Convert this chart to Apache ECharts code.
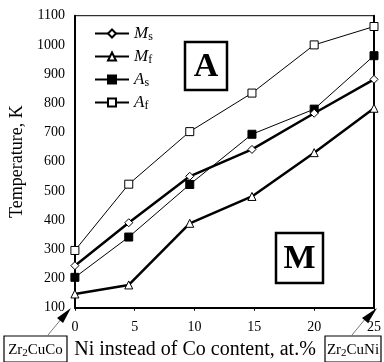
<!DOCTYPE html>
<html><head><meta charset="utf-8">
<script src="https://cdn.jsdelivr.net/npm/echarts@6/dist/echarts.min.js"></script>
<style>html,body{margin:0;padding:0;background:#fff}#c{width:384px;height:362px}</style>
</head><body><div id="c"></div>
<script>
const xValues = [0, 4.5, 9.6, 14.8, 20, 25];
const ms = [244, 391, 550, 642, 766, 882];
const mf = [147, 178, 389, 481, 631, 783];
const as = [204, 342, 522, 694, 780, 963];
const af = [296, 523, 703, 835, 1000, 1063];
const seriesNames = ['Ms', 'Mf', 'As', 'Af'];
const yTicks = [100, 1100, 100];
const xTicks = [0, 25, 5];

const FONT = 'Liberation Serif';
const chart = echarts.init(document.getElementById('c'));
function pairs(v){ return xValues.map((x,i)=>[x, v[i]]); }
const sub = {
  i:{fontFamily:FONT,fontStyle:'italic',fontSize:17,color:'#000',lineHeight:18},
  s:{fontFamily:FONT,fontSize:12,color:'#000',verticalAlign:'bottom',padding:[5,0,0,0],lineHeight:18}
};
function mk(name, data, symbol, fill, width, size){
  return {name, type:'line', data:pairs(data), symbol, symbolSize:size,
    lineStyle:{color:'#000', width}, itemStyle:{color:fill, borderColor:'#000', borderWidth:1},
    emphasis:{disabled:true}, z: width>1?3:2};
}
chart.setOption({
  animation:false,
  backgroundColor:'#fff',
  grid:{left:71.7, right:7.3, top:15.7, bottom:54.3, show:true, borderColor:'#000', borderWidth:1},
  legend:{orient:'vertical', left:94, top:25, padding:0, itemWidth:34, itemHeight:10, itemGap:5.5,
    data:seriesNames,
    formatter:n=>'{i|'+n[0]+'}{s|'+n[1]+'}',
    textStyle:{rich:sub}},
  xAxis:{type:'value', min:xTicks[0], max:xTicks[1], interval:xTicks[2],
    axisLine:{lineStyle:{color:'#000', width:2}},
    axisTick:{show:true, length:3, lineStyle:{color:'#000'}},
    axisLabel:{fontFamily:FONT, fontSize:14, color:'#000', margin:13},
    splitLine:{show:false}},
  yAxis:[{type:'value', min:yTicks[0], max:yTicks[1], interval:yTicks[2],
    name:'Temperature, K', nameLocation:'middle', nameGap:41,
    nameTextStyle:{fontFamily:FONT, fontSize:18, color:'#000'},
    axisLine:{show:true, lineStyle:{color:'#000', width:2}},
    axisTick:{show:false},
    axisLabel:{fontFamily:FONT, fontSize:14, color:'#000', margin:10, formatter:v=>String(v)},
    splitLine:{show:false}},
   {type:'value', position:'right', min:yTicks[0], max:yTicks[1], interval:yTicks[2],
    axisLine:{show:true, lineStyle:{color:'#000', width:2}},
    axisTick:{show:false}, axisLabel:{show:false}, splitLine:{show:false}}],
  series:[
    mk('Ms', ms, 'diamond', '#fff', 2.5, 8),
    mk('Mf', mf, 'triangle', '#fff', 2.5, 8),
    mk('As', as, 'rect', '#000', 1, 8),
    mk('Af', af, 'rect', '#fff', 1, 8)
  ],
  graphic:[
    {type:'rect', shape:{x:185, y:42, width:42, height:48}, style:{fill:'#fff', stroke:'#000', lineWidth:2.5}, z:10},
    {type:'text', x:206, y:67, style:{text:'A', font:'bold 34px "'+FONT+'"', fill:'#000', align:'center', verticalAlign:'middle'}, z:11},
    {type:'rect', shape:{x:276, y:233, width:47, height:50}, style:{fill:'#fff', stroke:'#000', lineWidth:2.5}, z:10},
    {type:'text', x:299.5, y:259, style:{text:'M', font:'bold 34px "'+FONT+'"', fill:'#000', align:'center', verticalAlign:'middle'}, z:11},
    {type:'text', x:195, y:350, style:{text:'Ni instead of Co content, at.%', font:'20px "'+FONT+'"', fill:'#000', align:'center', verticalAlign:'middle'}},
    {type:'rect', shape:{x:4, y:336, width:63, height:26}, style:{fill:'#fff', stroke:'#000', lineWidth:1.2}},
    {type:'text', x:35.5, y:350, style:{rich:{a:{fontFamily:FONT,fontSize:15,color:'#000'},b:{fontFamily:FONT,fontSize:11,color:'#000',padding:[6,0,0,0]}}, text:'{a|Zr}{b|2}{a|CuCo}', align:'center', verticalAlign:'middle'}},
    {type:'rect', shape:{x:325, y:336, width:56, height:26}, style:{fill:'#fff', stroke:'#000', lineWidth:1.2}},
    {type:'text', x:353, y:350, style:{rich:{a:{fontFamily:FONT,fontSize:15,color:'#000'},b:{fontFamily:FONT,fontSize:11,color:'#000',padding:[6,0,0,0]}}, text:'{a|Zr}{b|2}{a|CuNi}', align:'center', verticalAlign:'middle'}},
    {type:'line', shape:{x1:48, y1:335, x2:62, y2:318}, style:{stroke:'#555', lineWidth:0.8}},
    {type:'polygon', shape:{points:[[71,308],[57,318],[63,323]]}, style:{fill:'#000'}},
    {type:'line', shape:{x1:352, y1:335, x2:366, y2:318}, style:{stroke:'#555', lineWidth:0.8}},
    {type:'polygon', shape:{points:[[377,308],[362,318],[368,323]]}, style:{fill:'#000'}}
  ]
});
</script></body></html>
